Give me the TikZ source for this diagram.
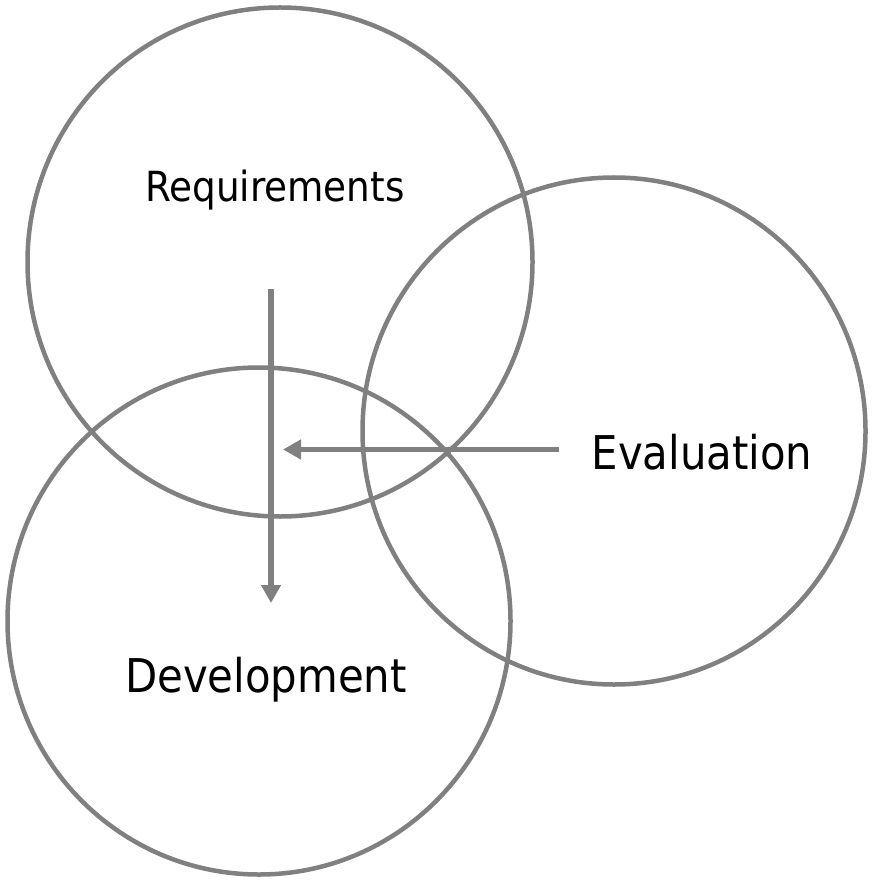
\documentclass[tikz,border=0pt]{standalone}
\usepackage{fontspec}
\setmainfont{DejaVu Sans Condensed}
\usetikzlibrary{arrows.meta}
\definecolor{ringgray}{HTML}{808080}
\begin{document}
\begin{tikzpicture}[x=1pt,y=-1pt,
  ring/.style={draw=ringgray,line width=4.5pt},
  flow/.style={draw=ringgray,line width=5.5pt,-{Triangle[length=18pt,width=19pt]}},
  lbl/.style={inner sep=0pt,text=black}]
\useasboundingbox (0,0) rectangle (873,882);
\draw[ring] (280,262) ellipse [x radius=252.5, y radius=254.5];
\draw[ring] (614,431) ellipse [x radius=251.5, y radius=253.5];
\draw[ring] (259,621) ellipse [x radius=251.5, y radius=253.5];
\node[lbl,font=\fontsize{41.5}{48}\selectfont] (req) at (275,190) {Requirements};
\node[lbl,font=\fontsize{46.5}{54}\selectfont] (eval) at (702,452) {Evaluation};
\node[lbl,font=\fontsize{46.5}{54}\selectfont] (dev) at (266,680) {Development};
\coordinate (vtop) at (271,289);
\coordinate (vtip) at (271,603);
\coordinate (hstart) at (559,449.5);
\coordinate (htip) at (283,449.5);
\draw[flow] (vtop) -- (vtip);
\draw[flow] (hstart) -- (htip);
\end{tikzpicture}
\end{document}
